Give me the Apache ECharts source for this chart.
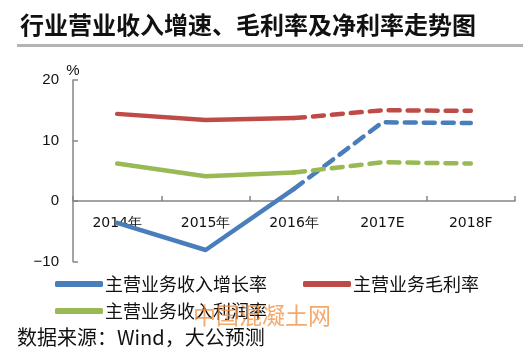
<!DOCTYPE html>
<html><head><meta charset="utf-8">
<script src="https://cdn.jsdelivr.net/npm/echarts@6/dist/echarts.min.js"></script>
<style>html,body{margin:0;padding:0;background:#fff;}#c{width:523px;height:360px;}</style>
</head><body><div id="c"></div>
<script>
const categories = ['2014年', '2015年', '2016年', '2017E', '2018F'];
const growthRate = [-3.6, -8.1, 2.0, 13.0, 12.9];
const grossMargin = [14.4, 13.4, 13.7, 15.0, 14.9];
const netMargin = [6.2, 4.1, 4.7, 6.4, 6.2];
const seriesNames = ['主营业务收入增长率', '主营业务毛利率', '主营业务收入利润率'];
const yTicks = { min: -10, max: 20, interval: 10 };
const actualCount = 3; // 2014-2016 actual, later forecast

const colors = ['#4a7ebb', '#be4b48', '#98b954'];
function solidPart(arr) { return arr.map((v, i) => i < actualCount ? v : '-'); }
function dashPart(arr) { return arr.map((v, i) => i >= actualCount - 1 ? v : '-'); }

const gridTop = 80, gridBottom = 98.5, H = 360;
const plotH = H - gridTop - gridBottom;
const zeroOffset = -plotH * (0 - yTicks.min) / (yTicks.max - yTicks.min);

const chart = echarts.init(document.getElementById('c'));
const data = [growthRate, grossMargin, netMargin];
const series = [];
data.forEach((arr, k) => {
  series.push({ name: seriesNames[k], type: 'line', data: solidPart(arr), showSymbol: false, symbol: 'none',
    lineStyle: { color: colors[k], width: 4.5, cap: 'round', join: 'round' }, itemStyle: { color: colors[k] }, z: 3 + k });
  series.push({ name: seriesNames[k] + '_f', type: 'line', data: dashPart(arr), showSymbol: false, symbol: 'none',
    lineStyle: { color: colors[k], width: 4.5, type: [11, 8], cap: 'round' }, itemStyle: { color: colors[k] }, z: 3 + k });
});

chart.setOption({
  animation: false,
  title: { text: '行业营业收入增速、毛利率及净利率走势图', left: 15, top: 8,
    textStyle: { fontSize: 24, fontWeight: 'bold', color: '#111', fontFamily: 'Noto Sans CJK SC' } },
  graphic: [
    { type: 'rect', shape: { x: 17, y: 44, width: 506, height: 3 }, style: { fill: '#b4b4b4' } },
    { type: 'text', left: 17, top: 327, style: { text: '数据来源：Wind，大公预测', font: '20px "Noto Sans CJK SC"', fill: '#111' } },
    { type: 'text', left: 193, top: 304, z: 100, style: { text: '中国混凝土网', font: '23px "Noto Sans CJK SC"', fill: 'rgba(240,140,60,0.75)' } }
  ],
  legend: [
    { data: [seriesNames[0], seriesNames[1]], left: 50, top: 270, itemWidth: 48, itemHeight: 6, itemGap: 36, icon: 'roundRect',
      textStyle: { fontSize: 18, color: '#111', fontFamily: 'Noto Sans CJK SC', padding: [0, 0, 0, -3] } },
    { data: [seriesNames[2]], left: 50, top: 297, itemWidth: 48, itemHeight: 6, icon: 'roundRect',
      textStyle: { fontSize: 18, color: '#111', fontFamily: 'Noto Sans CJK SC', padding: [0, 0, 0, -3] } }
  ],
  grid: { left: 73, right: 8, top: gridTop, bottom: gridBottom, containLabel: false },
  xAxis: { type: 'category', data: categories, boundaryGap: true, position: 'bottom', offset: zeroOffset,
    axisLine: { onZero: false, lineStyle: { color: '#858585', width: 1.5 } },
    axisTick: { show: true, inside: true, length: 5, alignWithLabel: false, lineStyle: { color: '#858585', width: 1.5 } },
    axisLabel: { margin: 15, fontSize: 14, color: '#111', fontFamily: 'DejaVu Sans' },
    splitLine: { show: false } },
  yAxis: { type: 'value', min: yTicks.min, max: yTicks.max, interval: yTicks.interval,
    name: '%', nameLocation: 'end', nameGap: 2, nameTextStyle: { fontSize: 15, color: '#111', fontFamily: 'Liberation Sans' },
    axisLine: { show: true, lineStyle: { color: '#858585', width: 1.5 } },
    axisTick: { show: true, inside: true, length: 5, lineStyle: { color: '#858585', width: 1.5 } },
    axisLabel: { margin: 14, fontSize: 15, color: '#111', fontFamily: 'Liberation Sans',
      formatter: v => String(v).replace('-', '\u2212') },
    splitLine: { show: false } },
  series: series
});
</script></body></html>
